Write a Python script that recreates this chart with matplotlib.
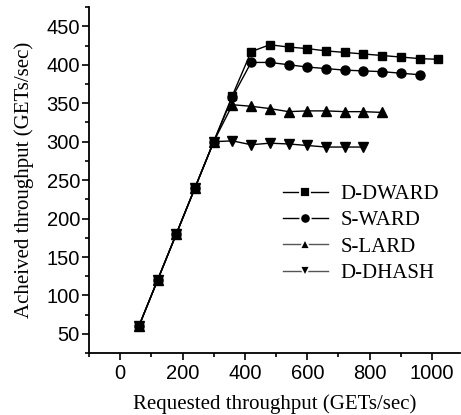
import numpy as np
import matplotlib.pyplot as plt
from matplotlib.ticker import MultipleLocator
from matplotlib.lines import Line2D

# requested throughput (GETs/sec)
x_dward = [60, 120, 180, 240, 300, 360, 420, 480, 540, 600, 660, 720, 780, 840, 900, 960, 1020]
x_sward = [60, 120, 180, 240, 300, 360, 420, 480, 540, 600, 660, 720, 780, 840, 900, 960]
x_slard = [60, 120, 180, 240, 300, 360, 420, 480, 540, 600, 660, 720, 780, 840]
x_dhash = [60, 120, 180, 240, 300, 360, 420, 480, 540, 600, 660, 720, 780]

# achieved throughput (GETs/sec)
y_dward = [60, 120, 180, 240, 300, 360, 417, 426, 423, 421, 418, 416, 414, 412, 410, 408, 407]
y_sward = [60, 120, 180, 240, 300, 358, 403, 403, 400, 397, 395, 393, 392, 391, 389, 387]
y_slard = [60, 120, 180, 240, 300, 348, 346, 343, 339, 340, 340, 339, 339, 338]
y_dhash = [60, 120, 180, 240, 300, 301, 296, 298, 297, 295, 293, 293, 293]

labels = ['D-DWARD', 'S-WARD', 'S-LARD', 'D-DHASH']
markers = ['s', 'o', '^', 'v']

plt.rcParams['font.family'] = ['Liberation Sans', 'DejaVu Sans']

fig = plt.figure(figsize=(4.61, 4.15), dpi=100)
ax = fig.add_axes([0.193, 0.149, 0.805, 0.834])

ax.plot(x_dward, y_dward, '-', color='black', lw=1, marker='s', ms=6)
ax.plot(x_sward, y_sward, '-', color='black', lw=1, marker='o', ms=6.5)
ax.plot(x_slard, y_slard, '-', color='black', lw=1, marker='^', ms=7)
ax.plot(x_dhash, y_dhash, '-', color='black', lw=1, marker='v', ms=7)

ax.set_xlim(-100, 1090)
ax.set_ylim(25, 475)
ax.xaxis.set_major_locator(MultipleLocator(200))
ax.xaxis.set_minor_locator(MultipleLocator(100))
ax.yaxis.set_major_locator(MultipleLocator(50))
ax.yaxis.set_minor_locator(MultipleLocator(25))
ax.set_yticks(np.arange(50, 451, 50))
ax.tick_params(which='major', direction='out', length=5, width=1.2, labelsize=14.5)
ax.tick_params(axis='y', which='major', pad=1.5)
ax.tick_params(axis='x', which='major', pad=3)
ax.tick_params(which='minor', direction='out', length=3, width=1.2)

ax.spines['top'].set_visible(False)
ax.spines['right'].set_visible(False)
ax.spines['left'].set_linewidth(1.3)
ax.spines['bottom'].set_linewidth(1.3)

ax.set_xlabel('Requested throughput (GETs/sec)', family='Liberation Serif', fontsize=15, labelpad=8)
ax.set_ylabel('Acheived throughput (GETs/sec)', family='Liberation Serif', fontsize=15, labelpad=9)

# legend handles: marker with a small gap to the line
line_colors = ['black', 'black', '#555555', '#555555']
handles = [Line2D([], [], color=c, lw=1, marker=m, ms=7.5, mfc='black', mec='white', mew=1.3)
           for c, m in zip(line_colors, markers)]
ax.legend(handles, labels, loc='center left', bbox_to_anchor=(0.522, 0.345), frameon=False,
          prop={'family': 'Liberation Serif', 'size': 15}, borderaxespad=0, borderpad=0,
          handlelength=2.16, handletextpad=0.6, labelspacing=0.33)

fig.savefig('out.png', dpi=100)
